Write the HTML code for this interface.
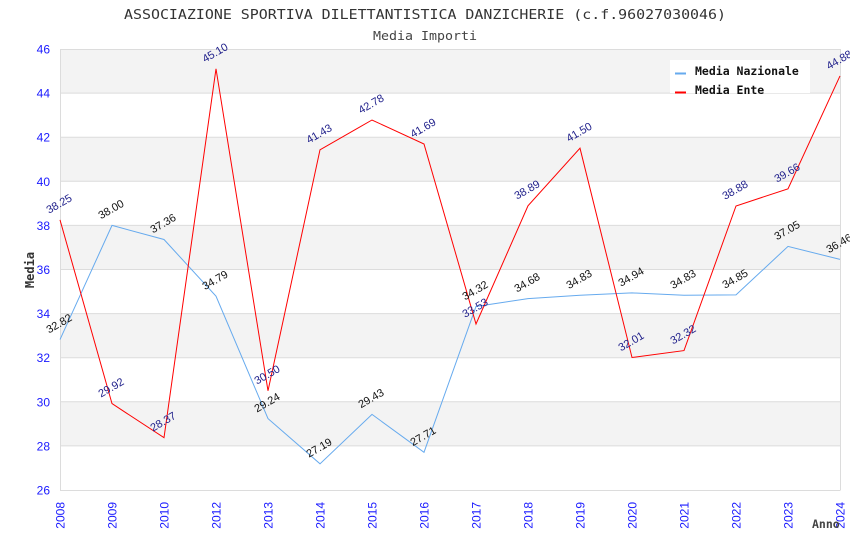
<!DOCTYPE html>
<html><head><meta charset="utf-8"><style>
html,body{margin:0;padding:0;background:#fff;}
svg{display:block;}
</style></head><body>
<svg width="850" height="550" viewBox="0 0 850 550" xmlns="http://www.w3.org/2000/svg">
<rect x="0" y="0" width="850" height="550" fill="#fff"/>
<!-- bands -->
<g fill="#f3f3f3">
<rect x="60" y="49" width="780" height="44.1"/>
<rect x="60" y="137.2" width="780" height="44.1"/>
<rect x="60" y="225.4" width="780" height="44.1"/>
<rect x="60" y="313.6" width="780" height="44.1"/>
<rect x="60" y="401.8" width="780" height="44.1"/>
</g>
<g stroke="#dcdcdc" stroke-width="1">
<line x1="60" y1="49.5" x2="840" y2="49.5"/>
<line x1="60" y1="93.1" x2="840" y2="93.1"/>
<line x1="60" y1="137.2" x2="840" y2="137.2"/>
<line x1="60" y1="181.3" x2="840" y2="181.3"/>
<line x1="60" y1="225.4" x2="840" y2="225.4"/>
<line x1="60" y1="269.5" x2="840" y2="269.5"/>
<line x1="60" y1="313.6" x2="840" y2="313.6"/>
<line x1="60" y1="357.7" x2="840" y2="357.7"/>
<line x1="60" y1="401.8" x2="840" y2="401.8"/>
<line x1="60" y1="445.9" x2="840" y2="445.9"/>
<line x1="60" y1="490.5" x2="840" y2="490.5"/>
<line x1="60.5" y1="49" x2="60.5" y2="490.5"/>
<line x1="840.5" y1="49" x2="840.5" y2="490.5"/>
</g>
<!-- title -->
<text x="425" y="19" text-anchor="middle" font-family="DejaVu Sans Mono, Liberation Mono, monospace" font-size="13" fill="#333" textLength="602" lengthAdjust="spacingAndGlyphs">ASSOCIAZIONE SPORTIVA DILETTANTISTICA DANZICHERIE (c.f.96027030046)</text>
<text x="425" y="40" text-anchor="middle" font-family="DejaVu Sans Mono, Liberation Mono, monospace" font-size="12" fill="#444" textLength="104" lengthAdjust="spacingAndGlyphs">Media Importi</text>
<!-- y labels -->
<g font-family="Liberation Sans, sans-serif" font-size="12" fill="#1a1aff" text-anchor="end">
<text x="50" y="53.5">46</text>
<text x="50" y="97.6">44</text>
<text x="50" y="141.7">42</text>
<text x="50" y="185.8">40</text>
<text x="50" y="229.9">38</text>
<text x="50" y="274">36</text>
<text x="50" y="318.1">34</text>
<text x="50" y="362.2">32</text>
<text x="50" y="406.3">30</text>
<text x="50" y="450.4">28</text>
<text x="50" y="494.5">26</text>
</g>
<text transform="translate(34,270) rotate(-90)" text-anchor="middle" font-family="DejaVu Sans Mono, Liberation Mono, monospace" font-weight="bold" font-size="12" fill="#333">Media</text>
<!-- x labels -->
<g font-family="Liberation Sans, sans-serif" font-size="12" fill="#1a1aff" text-anchor="end">
<text transform="translate(64.5,502) rotate(-90)">2008</text>
<text transform="translate(116.5,502) rotate(-90)">2009</text>
<text transform="translate(168.5,502) rotate(-90)">2010</text>
<text transform="translate(220.5,502) rotate(-90)">2012</text>
<text transform="translate(272.5,502) rotate(-90)">2013</text>
<text transform="translate(324.5,502) rotate(-90)">2014</text>
<text transform="translate(376.5,502) rotate(-90)">2015</text>
<text transform="translate(428.5,502) rotate(-90)">2016</text>
<text transform="translate(480.5,502) rotate(-90)">2017</text>
<text transform="translate(532.5,502) rotate(-90)">2018</text>
<text transform="translate(584.5,502) rotate(-90)">2019</text>
<text transform="translate(636.5,502) rotate(-90)">2020</text>
<text transform="translate(688.5,502) rotate(-90)">2021</text>
<text transform="translate(740.5,502) rotate(-90)">2022</text>
<text transform="translate(792.5,502) rotate(-90)">2023</text>
<text transform="translate(844.5,502) rotate(-90)">2024</text>
</g>
<text x="812" y="528" font-family="DejaVu Sans Mono, Liberation Mono, monospace" font-weight="bold" font-size="11.5" fill="#444">Anno</text>
<!-- series -->
<polyline fill="none" stroke="#66aaee" stroke-width="1" points="60,339.6 112,225.4 164,239.5 216,296.2 268,418.6 320,463.8 372,414.4 424,452.3 476,306.5 528,298.6 580,295.3 632,292.9 684,295.3 736,294.9 788,246.4 840,259.4"/>
<polyline fill="none" stroke="#ff0000" stroke-width="1" points="60,219.9 112,403.6 164,437.7 216,68.8 268,390.8 320,149.8 372,120 424,144 476,324 528,205.8 580,148.2 632,357.5 684,350.6 736,206 788,188.8 840,75.9"/>
<!-- nazionale labels -->
<g font-family="Liberation Sans, sans-serif" font-size="11" fill="#111">
<text transform="translate(49,333.6) rotate(-30)">32.82</text>
<text transform="translate(101,219.4) rotate(-30)">38.00</text>
<text transform="translate(153,233.5) rotate(-30)">37.36</text>
<text transform="translate(205,290.2) rotate(-30)">34.79</text>
<text transform="translate(257,412.6) rotate(-30)">29.24</text>
<text transform="translate(309,457.8) rotate(-30)">27.19</text>
<text transform="translate(361,408.4) rotate(-30)">29.43</text>
<text transform="translate(413,446.3) rotate(-30)">27.71</text>
<text transform="translate(465,300.5) rotate(-30)">34.32</text>
<text transform="translate(517,292.6) rotate(-30)">34.68</text>
<text transform="translate(569,289.3) rotate(-30)">34.83</text>
<text transform="translate(621,286.9) rotate(-30)">34.94</text>
<text transform="translate(673,289.3) rotate(-30)">34.83</text>
<text transform="translate(725,288.9) rotate(-30)">34.85</text>
<text transform="translate(777,240.4) rotate(-30)">37.05</text>
<text transform="translate(829,253.4) rotate(-30)">36.46</text>
</g>
<!-- ente labels -->
<g font-family="Liberation Sans, sans-serif" font-size="11" fill="#22228c">
<text transform="translate(49,213.9) rotate(-30)">38.25</text>
<text transform="translate(101,397.6) rotate(-30)">29.92</text>
<text transform="translate(153,431.7) rotate(-30)">28.37</text>
<text transform="translate(205,62.8) rotate(-30)">45.10</text>
<text transform="translate(257,384.8) rotate(-30)">30.50</text>
<text transform="translate(309,143.8) rotate(-30)">41.43</text>
<text transform="translate(361,114) rotate(-30)">42.78</text>
<text transform="translate(413,138) rotate(-30)">41.69</text>
<text transform="translate(465,318) rotate(-30)">33.53</text>
<text transform="translate(517,199.8) rotate(-30)">38.89</text>
<text transform="translate(569,142.2) rotate(-30)">41.50</text>
<text transform="translate(621,351.5) rotate(-30)">32.01</text>
<text transform="translate(673,344.6) rotate(-30)">32.32</text>
<text transform="translate(725,200) rotate(-30)">38.88</text>
<text transform="translate(777,182.8) rotate(-30)">39.66</text>
<text transform="translate(829,69.9) rotate(-30)">44.88</text>
</g>
<!-- legend -->
<rect x="670" y="60" width="140" height="33" fill="#fff"/>
<line x1="675" y1="73.5" x2="686" y2="73.5" stroke="#66aaee" stroke-width="2"/>
<line x1="675" y1="92.5" x2="686" y2="92.5" stroke="#ff0000" stroke-width="2"/>
<g font-family="DejaVu Sans Mono, Liberation Mono, monospace" font-weight="bold" font-size="11.5" fill="#111">
<text x="695" y="75">Media Nazionale</text>
<text x="695" y="94">Media Ente</text>
</g>
</svg>
</body></html>
